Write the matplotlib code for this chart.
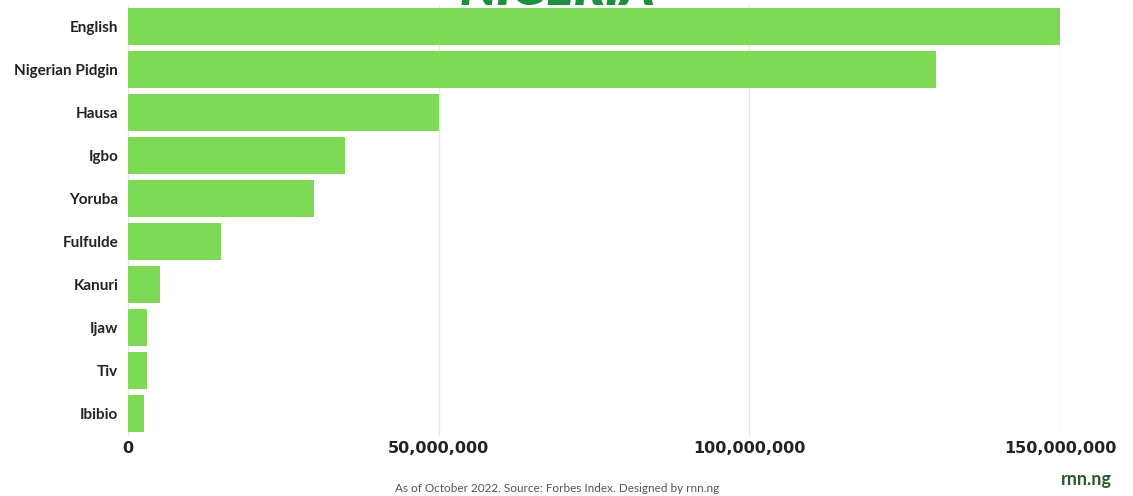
import matplotlib
matplotlib.use("Agg")
import matplotlib.pyplot as plt
from matplotlib.ticker import FuncFormatter

# ── Data ──────────────────────────────────────────────────────────────────────
languages = ["English", "Nigerian Pidgin", "Hausa", "Igbo", "Yoruba",
             "Fulfulde", "Kanuri", "Ijaw", "Tiv", "Ibibio"]
speakers = [150_000_000, 130_000_000, 50_000_000, 35_000_000, 30_000_000,
            15_000_000, 5_200_000, 3_000_000, 3_000_000, 2_600_000]
x_ticks = [0, 50_000_000, 100_000_000, 150_000_000]

BAR = "#7ed957"
GREEN_DK = "#1f8f3f"
FONT = "Lato"

fig = plt.figure(figsize=(11.33, 4.96), dpi=100)
fig.patch.set_facecolor("white")
ax = fig.add_axes([128/1133, 1-435.5/496, (1060-128)/1133, 431/496])

ypos = list(range(len(languages)))
ax.barh(ypos, speakers, height=0.86, color=BAR, zorder=3)

ax.set_xlim(0, 150_000_000)
ax.set_ylim(9.5, -0.5)
ax.set_yticks(ypos)
ax.set_yticklabels(languages, fontsize=11, fontweight="bold",
                   fontfamily=FONT, color="#222222")
ax.set_xticks(x_ticks)
ax.xaxis.set_major_formatter(FuncFormatter(lambda v, p: f"{int(v):,}"))
for t in ax.get_xticklabels():
    t.set_fontsize(11.5)
    t.set_fontweight("bold")
    t.set_fontfamily("DejaVu Sans")
    t.set_color("#222222")
ax.tick_params(axis="both", length=0)
ax.tick_params(axis="x", pad=4)
ax.tick_params(axis="y", pad=7)
ax.grid(axis="x", color="#e6e6e6", lw=0.9, zorder=0)
for s in ax.spines.values():
    s.set_visible(False)

# title, cut off at the top as in the source image
fig.text(557/1133, 1.0 + 10/496, "NIGERIA", ha="center", va="center",
         fontsize=37, fontweight="heavy", style="italic",
         fontfamily=FONT, color=GREEN_DK)

fig.text(557/1133, 1 - 489/496,
         "As of October 2022. Source: Forbes Index. Designed by rnn.ng",
         ha="center", va="center", fontsize=8.5, fontfamily=FONT,
         color="#555555")
fig.text(1086/1133, 1 - 480/496, "rnn.ng", ha="center", va="center",
         fontsize=13, fontweight="bold", fontfamily=FONT, color="#2d5a2d")

fig.savefig("out.png", dpi=100, facecolor="white")
